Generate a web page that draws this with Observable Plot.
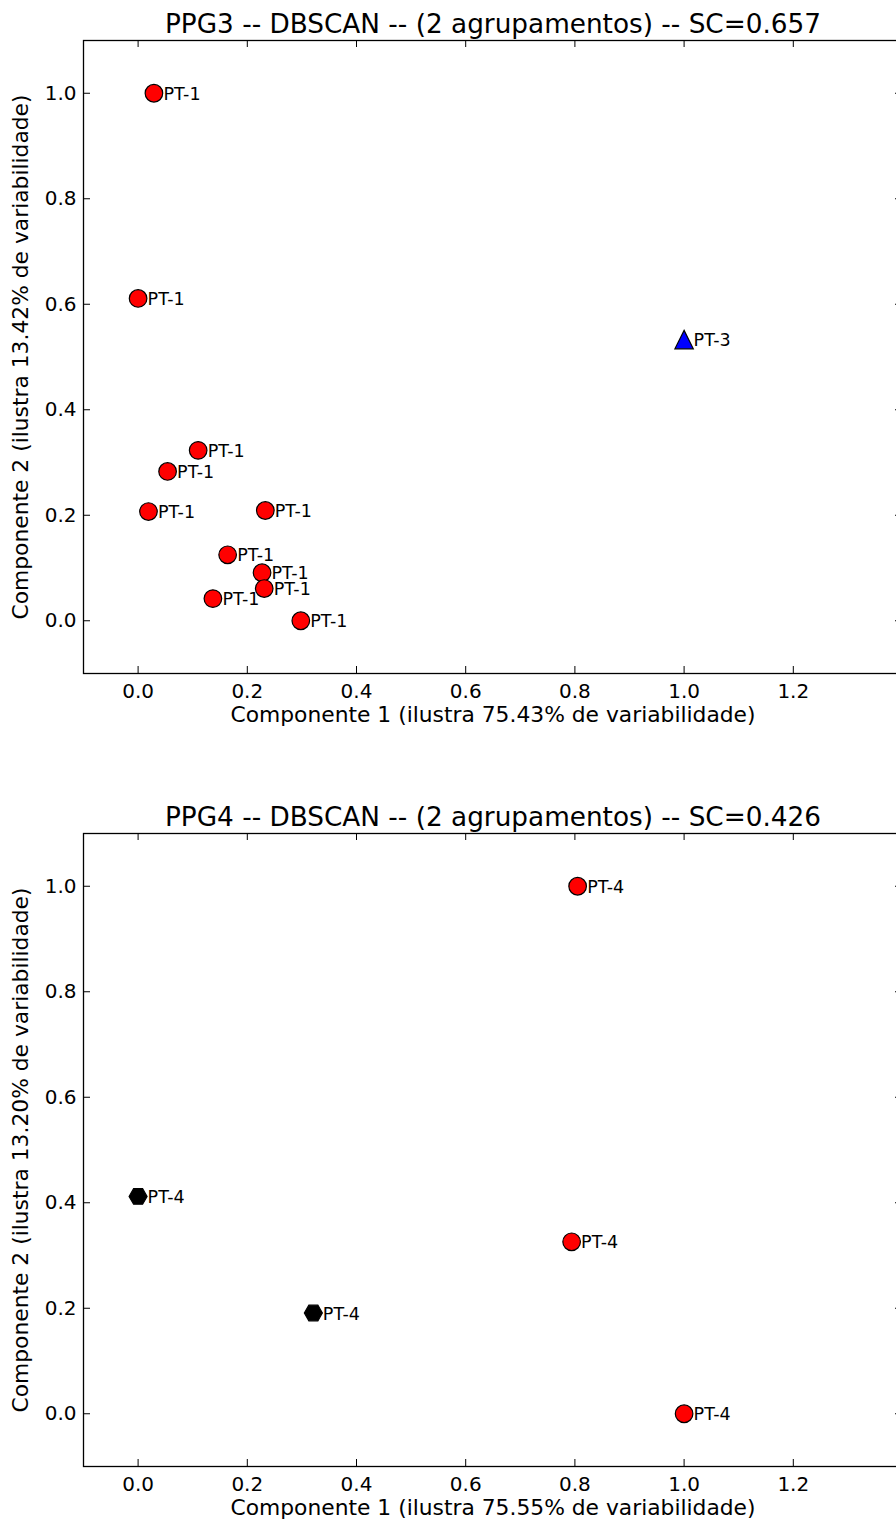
<!DOCTYPE html>
<html>
<head>
<meta charset="utf-8">
<script src="https://cdn.jsdelivr.net/npm/d3@7"></script>
<script src="https://cdn.jsdelivr.net/npm/@observablehq/plot@0.6"></script>
<style>
  html, body { margin: 0; padding: 0; overflow: hidden; background: #fff; }
  #chart { width: 910px; }
  #chart svg { display: block; max-width: none !important; }
</style>
</head>
<body>
<div id="chart"></div>
<script>
// ---- tick labels ----
const xTicks = [0, 0.2, 0.4, 0.6, 0.8, 1.0, 1.2];
const yTicks = [0, 0.2, 0.4, 0.6, 0.8, 1.0];

// ---- panel 1: PPG3 ----
const ppg3Title = "PPG3 -- DBSCAN -- (2 agrupamentos) -- SC=0.657";
const ppg3XLabel = "Componente 1 (ilustra 75.43% de variabilidade)";
const ppg3YLabel = "Componente 2 (ilustra 13.42% de variabilidade)";
const ppg3X = [0.029, 0.000, 1.000, 0.110, 0.054, 0.019, 0.233, 0.164, 0.227, 0.231, 0.137, 0.298];
const ppg3Y = [1.000, 0.611, 0.533, 0.323, 0.283, 0.207, 0.209, 0.125, 0.091, 0.061, 0.042, 0.000];
const ppg3Cluster = [0, 0, 1, 0, 0, 0, 0, 0, 0, 0, 0, 0];
const ppg3Names = ["PT-1", "PT-1", "PT-3", "PT-1", "PT-1", "PT-1", "PT-1", "PT-1", "PT-1", "PT-1", "PT-1", "PT-1"];

// ---- panel 2: PPG4 ----
const ppg4Title = "PPG4 -- DBSCAN -- (2 agrupamentos) -- SC=0.426";
const ppg4XLabel = "Componente 1 (ilustra 75.55% de variabilidade)";
const ppg4YLabel = "Componente 2 (ilustra 13.20% de variabilidade)";
const ppg4X = [0.805, 0.000, 0.794, 0.321, 1.000];
const ppg4Y = [1.000, 0.412, 0.326, 0.191, 0.000];
const ppg4Cluster = [0, 2, 0, 2, 0];
const ppg4Names = ["PT-4", "PT-4", "PT-4", "PT-4", "PT-4"];

// matplotlib-like marker shapes
const mplCircle = {draw(ctx, size) { const s = Math.sqrt(size / Math.PI); ctx.moveTo(s, 0); ctx.arc(0, 0, s, 0, 2 * Math.PI); }};
const mplTriangle = {draw(ctx, size) { const s = Math.sqrt(size / Math.PI); ctx.moveTo(0, -s); ctx.lineTo(s, s); ctx.lineTo(-s, s); ctx.closePath(); }};
const mplHexagon2 = {draw(ctx, size) {
  const s = Math.sqrt(size / Math.PI);
  for (let i = 0; i < 6; i++) {
    const a = i * Math.PI / 3, px = s * Math.cos(a), py = s * Math.sin(a);
    if (i) ctx.lineTo(px, py); else ctx.moveTo(px, py);
  }
  ctx.closePath();
}};
const clusterStyle = [
  {symbol: mplCircle, fill: "#ff0000", r: 8.8},
  {symbol: mplTriangle, fill: "#0000ff", r: 9.2},
  {symbol: mplHexagon2, fill: "#000000", r: 9}
];

function buildTable(xs, ys, cl, names) {
  return xs.map((x, i) => ({x, y: ys[i], cluster: cl[i], name: names[i]}));
}

function panel({title, xLabel, yLabel, data, height, marginTop, marginBottom}) {
  const W = 910, ML = 83, MR = 8;
  const innerH = height - marginTop - marginBottom;
  const innerW = W - ML - MR;
  const tickLen = 7;
  const dotMarks = clusterStyle.map((st, k) =>
    Plot.dot(data.filter(d => d.cluster === k), {
      x: "x", y: "y", symbol: st.symbol, r: st.r, fill: st.fill,
      stroke: "black", strokeWidth: 1.2
    })
  );
  return Plot.plot({
    width: W, height, marginLeft: ML, marginRight: MR, marginTop, marginBottom,
    style: {fontFamily: "'DejaVu Sans', sans-serif", background: "white", color: "black", maxWidth: "none"},
    x: {domain: [-0.1, 1.4]},
    y: {domain: [-0.1, 1.1]},
    marks: [
      ...dotMarks,
      Plot.text(data, {x: "x", y: "y", text: "name", dx: 9.5, dy: 1, textAnchor: "start", lineAnchor: "middle", fontSize: 17.5, fill: "black"}),
      Plot.tickX(xTicks, {x: d => d, stroke: "black", insetTop: innerH - tickLen}),
      Plot.tickX(xTicks, {x: d => d, stroke: "black", insetBottom: innerH - tickLen}),
      Plot.tickY(yTicks, {y: d => d, stroke: "black", insetLeft: innerW - tickLen}),
      Plot.tickY(yTicks, {y: d => d, stroke: "black", insetRight: innerW - tickLen}),
      Plot.frame({stroke: "black", strokeWidth: 1.3}),
      Plot.axisX({ticks: xTicks, tickSize: 0, tickPadding: 10, fontSize: 20, tickFormat: d3.format(".1f"), label: null}),
      Plot.axisY({ticks: yTicks, tickSize: 0, tickPadding: 7, fontSize: 20, tickFormat: d3.format(".1f"), label: null}),
      Plot.text([xLabel], {text: d => d, frameAnchor: "bottom", dy: 42, textAnchor: "middle", lineAnchor: "middle", fontSize: 21.8, fill: "black"}),
      Plot.text([yLabel], {text: d => d, frameAnchor: "left", dx: -62, rotate: -90, textAnchor: "middle", lineAnchor: "middle", fontSize: 21.8, fill: "black"}),
      Plot.text([title], {text: d => d, frameAnchor: "top", dy: -16, textAnchor: "middle", lineAnchor: "middle", fontSize: 26.3, fill: "black"})
    ]
  });
}

const root = document.getElementById("chart");
root.appendChild(panel({
  title: ppg3Title, xLabel: ppg3XLabel, yLabel: ppg3YLabel,
  data: buildTable(ppg3X, ppg3Y, ppg3Cluster, ppg3Names),
  height: 792, marginTop: 40, marginBottom: 119
}));
root.appendChild(panel({
  title: ppg4Title, xLabel: ppg4XLabel, yLabel: ppg4YLabel,
  data: buildTable(ppg4X, ppg4Y, ppg4Cluster, ppg4Names),
  height: 729, marginTop: 41, marginBottom: 55
}));
</script>
</body>
</html>
